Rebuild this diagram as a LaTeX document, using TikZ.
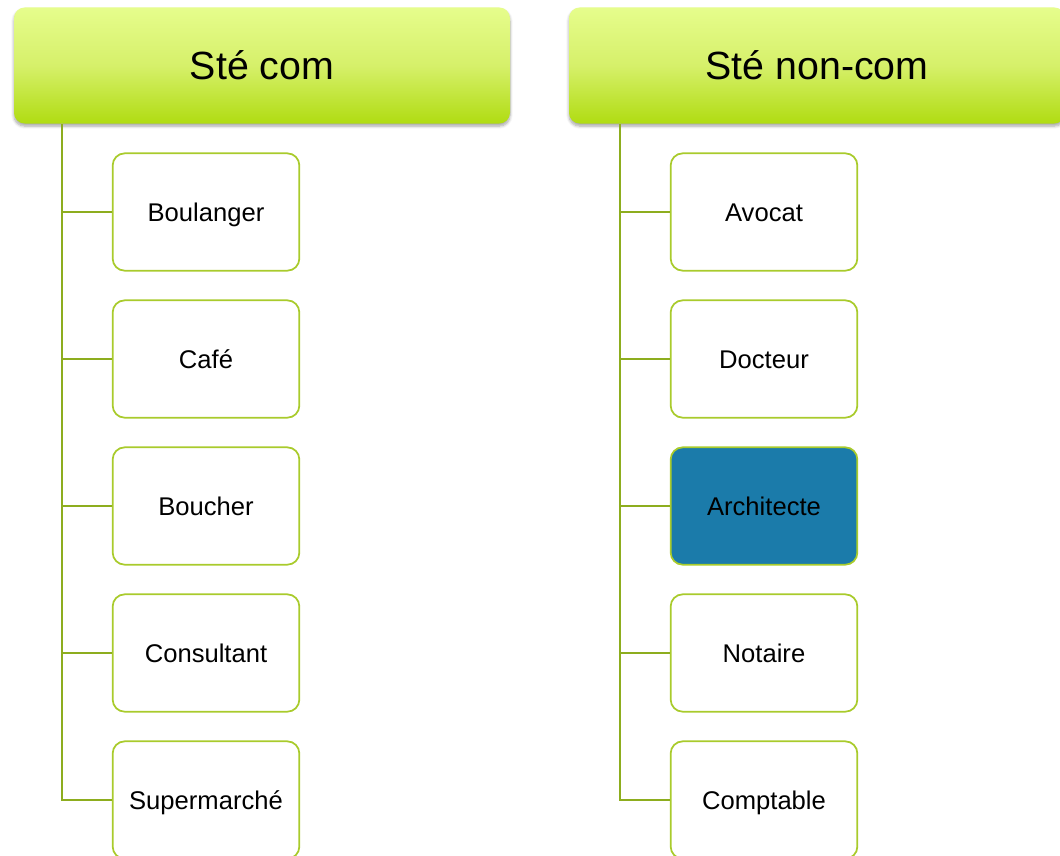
\documentclass[tikz,border=0pt]{standalone}
\usepackage{fontspec}
\setmainfont{Liberation Sans}
\usetikzlibrary{shadows.blur}
\definecolor{hdrtop}{HTML}{E6FD8C}
\definecolor{hdrmid}{HTML}{D6F06A}
\definecolor{hdrbot}{HTML}{B0DC12}
\definecolor{boxline}{HTML}{A9CB2C}
\definecolor{connline}{HTML}{8DAD1E}
\definecolor{archfill}{HTML}{1B7BAA}
\tikzset{
  hdr/.style={rounded corners=8pt, minimum width=372pt, minimum height=87pt,
    top color=hdrtop, bottom color=hdrbot, middle color=hdrmid, draw=none,
    blur shadow={shadow xshift=0pt, shadow yshift=-2pt, shadow blur steps=6, shadow opacity=35},
    font=\fontsize{29.5}{34}\selectfont, inner sep=0pt, text height=21.2pt, text depth=0pt},
  item/.style={rounded corners=9pt, minimum width=140pt, minimum height=88pt,
    draw=boxline, line width=1.3pt, fill=white, font=\fontsize{19.2}{23}\selectfont,
    inner sep=0pt, text height=13.8pt, text depth=0pt},
  conn/.style={draw=connline, line width=1.4pt},
}
\begin{document}
\begin{tikzpicture}[x=0.75pt,y=-0.75pt]
\useasboundingbox (0,0) rectangle (1060,856);
\clip (0,0) rectangle (1060,856);
% headers
\node[hdr] (h1) at (262,65.5) {Sté com};
\node[hdr] (h2) at (817,65.5) {Sté non-com};
\coordinate (t1) at (62,124);
\coordinate (t2) at (620,124);
% left items
\node[item] (a1) at (206,212) {Boulanger};
\node[item] (a2) at (206,359) {Café};
\node[item] (a3) at (206,506) {Boucher};
\node[item] (a4) at (206,653) {Consultant};
\node[item] (a5) at (206,800) {Supermarché};
% right items
\node[item] (b1) at (764,212) {Avocat};
\node[item] (b2) at (764,359) {Docteur};
\node[item, fill=archfill] (b3) at (764,506) {Architecte};
\node[item] (b4) at (764,653) {Notaire};
\node[item] (b5) at (764,800) {Comptable};
% connectors
\draw[conn] (t1) |- (a5.west);
\foreach \n in {a1,a2,a3,a4} \draw[conn] (\n.west) -- (\n.west -| t1);
\draw[conn] (t2) |- (b5.west);
\foreach \n in {b1,b2,b3,b4} \draw[conn] (\n.west) -- (\n.west -| t2);
\end{tikzpicture}
\end{document}
